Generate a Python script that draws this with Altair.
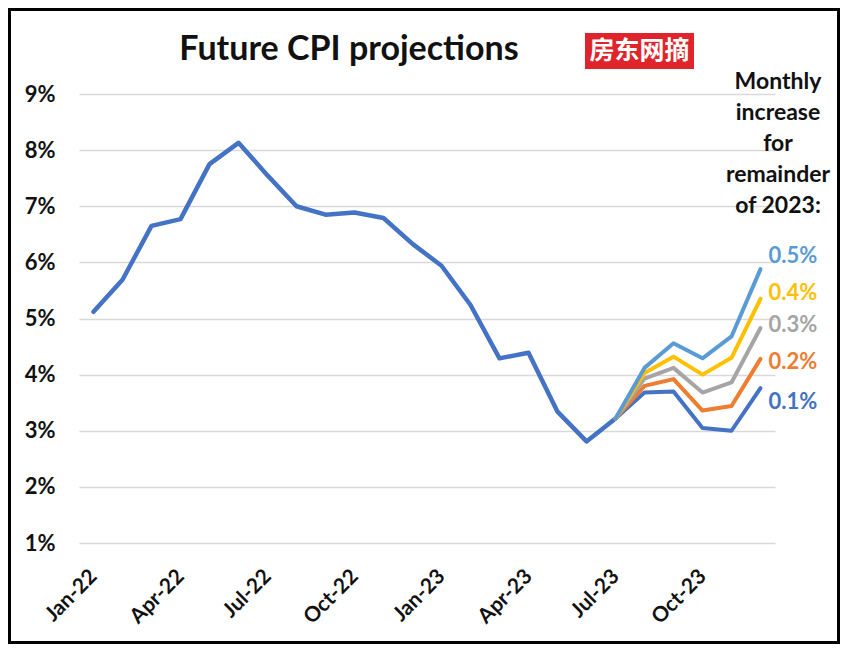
import altair as alt
import pandas as pd

months = ["Jan-22", "Feb-22", "Mar-22", "Apr-22", "May-22", "Jun-22", "Jul-22", "Aug-22",
          "Sep-22", "Oct-22", "Nov-22", "Dec-22", "Jan-23", "Feb-23", "Mar-23", "Apr-23",
          "May-23", "Jun-23", "Jul-23", "Aug-23", "Sep-23", "Oct-23", "Nov-23", "Dec-23"]
tick_labels = ["Jan-22", "Apr-22", "Jul-22", "Oct-22", "Jan-23", "Apr-23", "Jul-23", "Oct-23"]

actual = [5.12, 5.69, 6.65, 6.77, 7.75, 8.13, 7.55, 7.00, 6.85, 6.89, 6.79, 6.33,
          5.94, 5.24, 4.29, 4.39, 3.34, 2.81, 3.22]
proj_months = months[18:]
p01 = [3.22, 3.68, 3.70, 3.05, 3.00, 3.76]
p02 = [3.22, 3.80, 3.92, 3.36, 3.44, 4.28]
p03 = [3.22, 3.93, 4.12, 3.68, 3.86, 4.83]
p04 = [3.22, 4.03, 4.32, 4.00, 4.30, 5.35]
p05 = [3.22, 4.12, 4.56, 4.29, 4.68, 5.88]

series_names = ["actual", "0.1%", "0.2%", "0.3%", "0.4%", "0.5%"]
series_colors = ["#4472C4", "#4472C4", "#ED7D31", "#A5A5A5", "#FFC000", "#5B9BD5"]

rows = [{"month": m, "value": v, "series": "actual", "order": 0} for m, v in zip(months, actual)]
for k, (name, vals) in enumerate(zip(series_names[1:], [p01, p02, p03, p04, p05])):
    rows += [{"month": m, "value": v, "series": name, "order": k + 1} for m, v in zip(proj_months, vals)]
df = pd.DataFrame(rows)

FONT = "Lato"
W, H = 696, 449
PL, PT = 71, 86

xenc = alt.X("month:N", sort=months,
             scale=alt.Scale(type="point", padding=0.5, domain=months),
             axis=alt.Axis(values=tick_labels, labelAngle=-45, labelAlign="right",
                           labelBaseline="middle", labelPadding=30, ticks=False,
                           domain=False, grid=False, title=None, labelFont=FONT,
                           labelFontSize=21, labelFontWeight="bold", labelColor="#111",
                           labelOverlap=False))
yenc = alt.Y("value:Q", scale=alt.Scale(domain=[1, 9], nice=False, zero=False),
             axis=alt.Axis(values=[1, 2, 3, 4, 5, 6, 7, 8, 9], labelExpr="datum.value + '%'",
                           ticks=False, domain=False, grid=True, gridColor="#D9D9D9",
                           gridWidth=1.5, title=None, labelFont=FONT, labelFontSize=22,
                           labelFontWeight="bold", labelColor="#111", labelPadding=24))
cenc = alt.Color("series:N", scale=alt.Scale(domain=series_names, range=series_colors), legend=None)

layers = []
for name in series_names:
    layers.append(
        alt.Chart(df).transform_filter(alt.datum.series == name)
        .mark_line(strokeWidth=4.5 if name == "actual" else 4, strokeCap="round", strokeJoin="round")
        .encode(x=xenc, y=yenc, color=cenc)
    )

label_dy = {"0.1%": 14, "0.2%": 3, "0.3%": -3, "0.4%": -6, "0.5%": -13}
for name in series_names[1:]:
    layers.append(
        alt.Chart(df).transform_filter((alt.datum.series == name) & (alt.datum.month == months[-1]))
        .mark_text(align="left", baseline="middle", dx=8, dy=label_dy[name], font=FONT,
                   fontSize=22, fontWeight="bold")
        .encode(x=xenc, y=yenc, color=cenc, text="series:N")
    )

one = alt.Data(values=[{}])
title = alt.Chart(one).mark_text(font=FONT, fontSize=34, fontWeight="bold", color="#111",
                                 align="center", baseline="middle").encode(
    x=alt.value(270), y=alt.value(-44), text=alt.value("Future CPI projections"))
wm_box = alt.Chart(one).mark_rect(color="#E0242B").encode(
    x=alt.value(506), x2=alt.value(615), y=alt.value(-61), y2=alt.value(-25))
wm_text = alt.Chart(one).mark_text(font="Noto Sans CJK SC", fontSize=25, fontWeight="bold",
                                   color="white", align="center", baseline="middle").encode(
    x=alt.value(560.5), y=alt.value(-43), text=alt.value("房东网摘"))
header = alt.Chart(one).mark_text(font=FONT, fontSize=23, fontWeight="bold", color="#111",
                                  align="center", baseline="top", lineBreak="\n",
                                  lineHeight=31).encode(
    x=alt.value(699), y=alt.value(-23),
    text=alt.value("Monthly\nincrease\nfor\nremainder\nof 2023:"))
border = alt.Chart(one).mark_rect(fill=None, stroke="black", strokeWidth=3).encode(
    x=alt.value(-69.5), x2=alt.value(759.5), y=alt.value(-84.5), y2=alt.value(548.5))

chart = alt.layer(*layers, title, wm_box, wm_text, header, border).properties(
    width=W, height=H,
    background="white",
    padding={"left": PL, "top": PT, "right": 832 - PL - W, "bottom": 636 - PT - H},
    autosize=alt.AutoSizeParams(type="none"),
).configure_view(strokeWidth=0, stroke="transparent")

chart.save("out.html", embed_options={"renderer": "svg", "actions": False})
